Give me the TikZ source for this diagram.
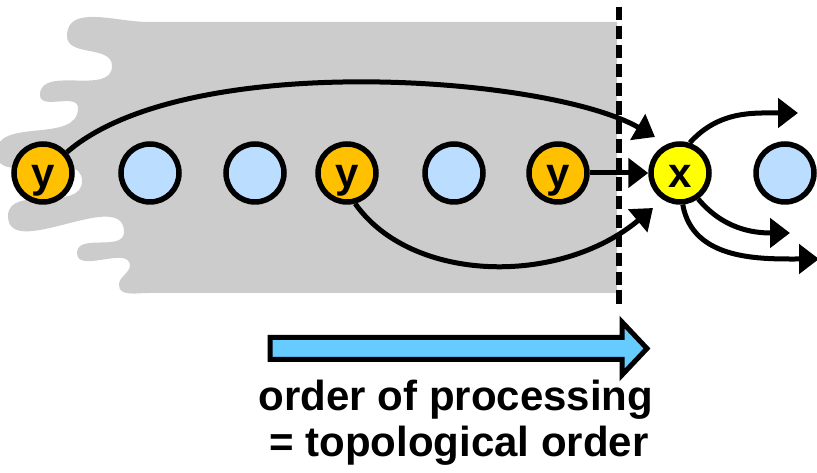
\documentclass[tikz,border=0pt]{standalone}
\usepackage{fontspec}
\setmainfont{Liberation Sans}
\usetikzlibrary{arrows.meta}
\definecolor{grayfill}{HTML}{CCCCCC}
\definecolor{ynode}{HTML}{FFC000}
\definecolor{bnode}{RGB}{187,221,255}
\definecolor{xnode}{HTML}{FFFF00}
\definecolor{barrow}{HTML}{66CCFF}
\begin{document}
\begin{tikzpicture}[x=1pt,y=1pt,
  vtx/.style={circle,draw=black,line width=5.5pt,minimum size=58pt,inner sep=0pt,
    font=\fontsize{42}{46}\selectfont\bfseries,text height=35pt,text depth=5pt},
  yv/.style={vtx,fill=ynode},
  bv/.style={vtx,fill=bnode},
  xv/.style={vtx,fill=xnode},
  arr/.style={line width=5pt,-{Triangle[length=20pt,width=29pt]}},
  lbl/.style={font=\fontsize{42}{46}\selectfont\bfseries,anchor=base,inner sep=0pt},
]
\useasboundingbox (0,0) rectangle (817,473);
% grey region with wavy left edge
\fill[grayfill] (617,451) -- (148,451)
  to[out=180,in=90] (67,437)
  to[out=-90,in=90] (112,407)
  to[out=-90,in=90] (40,378)
  to[out=-90,in=90] (78,365)
  to[out=-90,in=90] (-4,320)
  to[out=-90,in=90] (82,292)
  to[out=-90,in=90] (8,257)
  to[out=-90,in=90] (124,241)
  to[out=-90,in=90] (77,220)
  to[out=-90,in=90] (130,207)
  to[out=-100,in=90] (119,188)
  to[out=-90,in=180] (148,180)
  -- (617,180) -- cycle;
% dashed boundary
\coordinate (dtop) at (619,466);
\coordinate (dbot) at (619,165);
\draw[line width=5.5pt,dash pattern=on 13.5pt off 5.4pt] (dtop) -- (dbot);
% vertices
\node[yv] (y1) at (43,300) {y};
\node[bv] (b1) at (150,300) {};
\node[bv] (b2) at (255,300) {};
\node[yv] (y2) at (347,300) {y};
\node[bv] (b3) at (454,300) {};
\node[yv] (y3) at (558,300) {y};
\node[xv] (x) at (680,300) {x};
\node[bv] (b4) at (785,300) {};
% arrow end points
\coordinate (t1) at (655,336);
\coordinate (t2) at (653,265);
\coordinate (t3) at (798,360);
\coordinate (t4) at (790,240);
\coordinate (t5) at (819,214);
% edges
\draw[arr] (y1.41) .. controls (186,424) and (549.5,397) .. (t1);
\draw[arr] (y2.-75) .. controls (411,190) and (559.5,186.5) .. (t2);
\draw[arr] (y3) -- (x);
\draw[arr] (x.72) to[out=48,in=180] (t3);
\draw[arr] (x.-55) to[out=-50,in=180] (t4);
\draw[arr] (x.-85) to[out=-80,in=180] (t5);
% big blue arrow
\filldraw[fill=barrow,draw=black,line width=5pt,line join=miter]
  (270,135.5) -- (622,135.5) -- (622,151) -- (647,124.5) -- (622,98)
  -- (622,113.5) -- (270,113.5) -- cycle;
% caption
\node[lbl] (cap1) at (456,62) {order of processing};
\node[lbl] (cap2) at (459,16) {= topological order};
\end{tikzpicture}
\end{document}
